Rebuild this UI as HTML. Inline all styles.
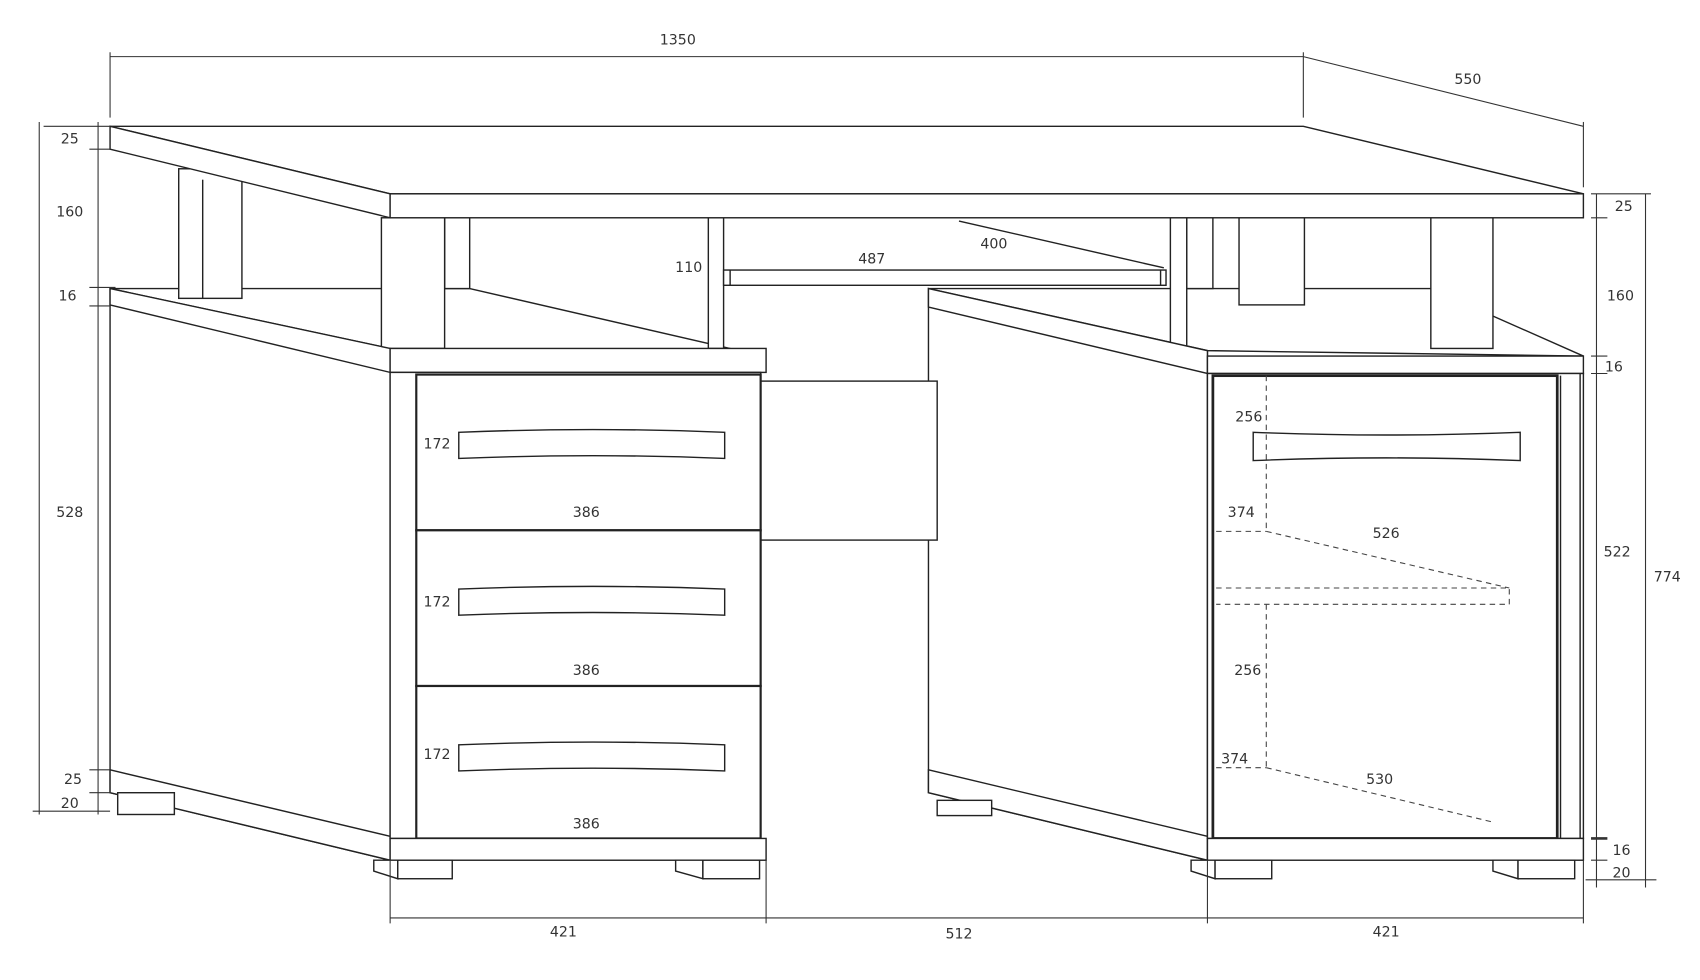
<!DOCTYPE html>
<html><head><style>
html,body{margin:0;padding:0;background:#fff;}
svg{display:block;}
text{font-family:"DejaVu Sans","Liberation Sans",sans-serif;font-size:13px;fill:#333;text-anchor:middle;}
</style></head><body>
<svg width="1700" height="980" viewBox="0 0 1560 900" preserveAspectRatio="none" xmlns="http://www.w3.org/2000/svg">
<g fill="#fff" stroke="#222" stroke-width="1.3">
<!-- left pedestal side -->
<polygon points="101,265 358,320 358,790 101,728"/>
<polygon points="101,707 358,768 358,790 101,728"/>
<rect x="108" y="728" width="52" height="20"/>
<!-- right pedestal side -->
<polygon points="852,265 1108,322 1108,790 852,728"/>
<polygon points="852,707 1108,768 1108,790 852,728"/>
<rect x="860" y="735" width="50" height="14"/>
<!-- back top of pedestals -->
<polygon points="101,265 431,265 700,327 358,320"/>
<polygon points="852,265 1313,265 1453,327 1108,322"/>
<!-- posts -->
<rect x="164" y="155" width="58" height="119"/>
<line x1="186" y1="165" x2="186" y2="274"/>
<rect x="1137" y="200" width="60" height="80"/>
<rect x="1313" y="200" width="57" height="120"/>
<rect x="408" y="200" width="23" height="65"/>
<rect x="350" y="200" width="58" height="120"/>
<rect x="1089" y="200" width="24" height="65"/>
<rect x="650" y="200" width="14" height="120"/>
<rect x="1074" y="200" width="15" height="120"/>
<!-- keyboard tray -->
<rect x="664" y="248" width="406" height="14"/>
<line x1="670" y1="248" x2="670" y2="262"/>
<line x1="1065" y1="248" x2="1065" y2="262"/>
<line x1="880" y1="203" x2="1068" y2="246"/>
<!-- modesty panel -->
<rect x="698" y="350" width="162" height="146"/>
<!-- shelves front -->
<polygon points="101,265 358,320 358,342 101,280"/>
<rect x="358" y="320" width="345" height="22"/>
<polygon points="852,265 1108,322 1108,343 852,282"/>
<rect x="1108" y="327" width="345" height="16"/>
<!-- left front -->
<rect x="358" y="342" width="340" height="428"/>
<rect x="382" y="344" width="316" height="143" stroke-width="2"/>
<rect x="382" y="487" width="316" height="143" stroke-width="2"/>
<rect x="382" y="630" width="316" height="140" stroke-width="2"/>
<path d="M421,397 Q545,392 665,397 L665,421 Q545,416 421,421 Z"/>
<path d="M421,541 Q545,536 665,541 L665,565 Q545,560 421,565 Z"/>
<path d="M421,684 Q545,679 665,684 L665,708 Q545,703 421,708 Z"/>
<rect x="358" y="770" width="345" height="20"/>
<polygon points="343,790 365,790 365,807 343,800"/>
<rect x="365" y="790" width="50" height="17"/>
<polygon points="620,790 645,790 645,807 620,800"/>
<rect x="645" y="790" width="52" height="17"/>
<!-- right front -->
<rect x="1108" y="343" width="345" height="427"/>
<rect x="1113" y="345" width="316" height="425" stroke-width="2.5"/>
<line x1="1432" y1="345" x2="1432" y2="770"/>
<line x1="1450" y1="343" x2="1450" y2="770"/>
<path d="M1150,397 Q1272,402 1395,397 L1395,423 Q1272,418 1150,423 Z"/>
<rect x="1108" y="770" width="345" height="20"/>
<polygon points="1093,790 1115,790 1115,807 1093,800"/>
<rect x="1115" y="790" width="52" height="17"/>
<polygon points="1370,790 1393,790 1393,807 1370,800"/>
<rect x="1393" y="790" width="52" height="17"/>
<!-- desktop -->
<polygon points="101,116 1196,116 1453,178 358,178"/>
<polygon points="101,116 358,178 358,200 101,137"/>
<rect x="358" y="178" width="1095" height="22"/>
</g>
<!-- dashed interior -->
<g fill="none" stroke="#444" stroke-width="1" stroke-dasharray="5,4">
<line x1="1162" y1="345" x2="1162" y2="488"/>
<line x1="1116" y1="488" x2="1162" y2="488"/>
<line x1="1162" y1="488" x2="1385" y2="540"/>
<polyline points="1116,540 1385,540 1385,555 1116,555"/>
<line x1="1162" y1="555" x2="1162" y2="705"/>
<line x1="1116" y1="705" x2="1162" y2="705"/>
<line x1="1162" y1="705" x2="1370" y2="755"/>
</g>
<!-- dimension lines -->
<g stroke="#333" stroke-width="1" fill="none">
<line x1="101" y1="52" x2="1196" y2="52"/>
<line x1="101" y1="48" x2="101" y2="108"/>
<line x1="1196" y1="48" x2="1196" y2="108"/>
<line x1="1196" y1="52" x2="1453" y2="116"/>
<line x1="1453" y1="112" x2="1453" y2="172"/>
<line x1="36" y1="112" x2="36" y2="748"/>
<line x1="90" y1="112" x2="90" y2="748"/>
<line x1="40" y1="116" x2="101" y2="116"/>
<line x1="82" y1="137" x2="101" y2="137"/>
<line x1="82" y1="264" x2="106" y2="264"/>
<line x1="82" y1="281" x2="101" y2="281"/>
<line x1="82" y1="707" x2="101" y2="707"/>
<line x1="82" y1="728" x2="101" y2="728"/>
<line x1="30" y1="745" x2="101" y2="745"/>
<line x1="1465" y1="178" x2="1465" y2="815"/>
<line x1="1510" y1="178" x2="1510" y2="815"/>
<line x1="1460" y1="178" x2="1515" y2="178"/>
<line x1="1460" y1="200" x2="1475" y2="200"/>
<line x1="1460" y1="327" x2="1475" y2="327"/>
<line x1="1460" y1="343" x2="1475" y2="343"/>
<line x1="1460" y1="770" x2="1475" y2="770" stroke-width="2.5"/>
<line x1="1460" y1="790" x2="1475" y2="790"/>
<line x1="1455" y1="808" x2="1520" y2="808"/>
<line x1="358" y1="843" x2="1453" y2="843"/>
<line x1="358" y1="790" x2="358" y2="848"/>
<line x1="703" y1="790" x2="703" y2="848"/>
<line x1="1108" y1="790" x2="1108" y2="848"/>
<line x1="1453" y1="790" x2="1453" y2="848"/>
</g>
<g>
<text x="622" y="41">1350</text>
<text x="1347" y="77">550</text>
<text x="64" y="132">25</text>
<text x="64" y="199">160</text>
<text x="62" y="276">16</text>
<text x="64" y="475">528</text>
<text x="67" y="720">25</text>
<text x="64" y="742">20</text>
<text x="632" y="250">110</text>
<text x="800" y="242">487</text>
<text x="912" y="228">400</text>
<text x="401" y="412">172</text>
<text x="401" y="557">172</text>
<text x="401" y="697">172</text>
<text x="538" y="475">386</text>
<text x="538" y="620">386</text>
<text x="538" y="761">386</text>
<text x="1146" y="387">256</text>
<text x="1139" y="475">374</text>
<text x="1272" y="494">526</text>
<text x="1145" y="620">256</text>
<text x="1133" y="701">374</text>
<text x="1266" y="720">530</text>
<text x="1490" y="194">25</text>
<text x="1487" y="276">160</text>
<text x="1481" y="341">16</text>
<text x="1484" y="511">522</text>
<text x="1530" y="534">774</text>
<text x="1488" y="785">16</text>
<text x="1488" y="806">20</text>
<text x="517" y="860">421</text>
<text x="880" y="862">512</text>
<text x="1272" y="860">421</text>
</g>
</svg>
</body></html>
